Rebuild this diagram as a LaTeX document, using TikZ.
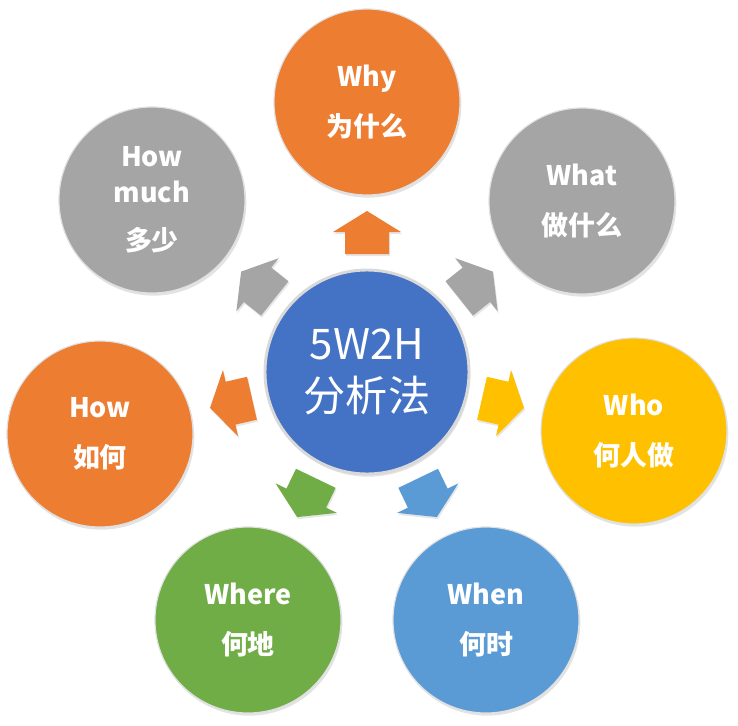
\documentclass[tikz,border=0pt]{standalone}
\usepackage{fontspec}
\setmainfont{Noto Sans CJK SC}
\usetikzlibrary{shadows}

\definecolor{wOrange}{HTML}{ED7D31}
\definecolor{wGray}{HTML}{A5A5A5}
\definecolor{wYellow}{HTML}{FFC000}
\definecolor{wSky}{HTML}{5B9BD5}
\definecolor{wGreen}{HTML}{70AD47}
\definecolor{wBlue}{HTML}{4472C4}

\begin{document}
\begin{tikzpicture}[
			x=0.03cm, y=0.03cm,
			bubble/.style={circle, minimum size=5.58cm, inner sep=0pt, text=white, align=center, draw=white!88!black, line width=1pt, drop shadow={opacity=0.22, shadow xshift=0.04cm, shadow yshift=-0.08cm}, font=\fontsize{23}{31}\selectfont\bfseries},
			hub/.style={bubble, minimum size=6.12cm, line width=2.5pt, draw=white!85!black, font=\fontsize{36}{44}\selectfont},
			blockarrow/.style={drop shadow={opacity=0.2, shadow xshift=0.03cm, shadow yshift=-0.06cm}}
			]
			\useasboundingbox (-367,-353) rectangle (371,372);
			% Arrows
			\foreach \ang/\col in {90/wOrange, 38.57/wGray, -12.86/wYellow, -64.29/wSky, -115.71/wGreen, -167.14/wOrange, 141.43/wGray}
				\fill[\col, blockarrow, shift={(\ang:140)}, rotate=\ang] (21,0) -- (0,34) -- (0,22) -- (-22,22) -- (-22,-22) -- (0,-22) -- (0,-34) -- cycle;
			
			% Nodes
			\node [hub, fill=wBlue] (hub) at (0,0) {5W2H\\分析法};
			\node [bubble, fill=wOrange] (why) at (0,270) {Why\\[12pt]为什么};
			\node [bubble, fill=wGray] (what) at (215,171) {What\\[12pt]做什么};
			\node [bubble, fill=wYellow] (who) at (267,-59) {Who\\[12pt]何人做};
			\node [bubble, fill=wSky] (when) at (119,-248) {When\\[12pt]何时};
			\node [bubble, fill=wGreen] (where) at (-119,-248) {Where\\[12pt]何地};
			\node [bubble, fill=wOrange] (how) at (-267,-62) {How\\[12pt]如何};
			\node [bubble, fill=wGray] (howmuch) at (-215,172) {How\\much\\[10pt]多少};
		\end{tikzpicture}
\end{document}
